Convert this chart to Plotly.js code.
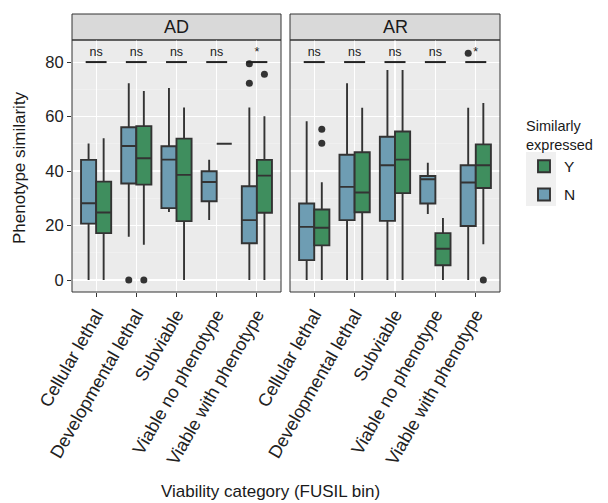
<!DOCTYPE html>
<html>
<head>
<meta charset="utf-8">
<script src="https://cdn.plot.ly/plotly-3.0.1.min.js"></script>
<style>html,body{margin:0;padding:0;background:#fff;}#chart{width:608px;height:503px;}</style>
</head>
<body>
<div id="chart"></div>
<script>
// ---- data ----
const categories = ['Cellular lethal','Developmental lethal','Subviable','Viable no phenotype','Viable with phenotype'];
const facets = ['AD','AR'];
const groups = ['N','Y'];

// AD, N
const AD_N_lower  = [0, 15.9, 25.0, 22.0, 0];
const AD_N_q1     = [20.7, 35.4, 26.4, 28.9, 13.5];
const AD_N_median = [28.2, 49.2, 44.2, 36.0, 22.0];
const AD_N_q3     = [44.1, 56.1, 49.1, 39.9, 34.4];
const AD_N_upper  = [50.1, 72.2, 70.5, 44.1, 63.3];
// AD, Y
const AD_Y_lower  = [0, 12.9, 0, 50, 0];
const AD_Y_q1     = [17.2, 35.0, 21.6, 50, 24.7];
const AD_Y_median = [24.8, 44.7, 38.6, 50, 38.3];
const AD_Y_q3     = [36.1, 56.5, 51.9, 50, 44.1];
const AD_Y_upper  = [52.0, 69.4, 63.3, 50, 60.1];
// AR, N
const AR_N_lower  = [0, 0, 0, 24.2, 0];
const AR_N_q1     = [7.3, 22.0, 21.7, 28.1, 19.8];
const AR_N_median = [19.5, 34.2, 42.1, 37.0, 35.8];
const AR_N_q3     = [28.1, 46.0, 52.6, 38.2, 42.1];
const AR_N_upper  = [58.3, 72.2, 77.1, 43.0, 63.2];
// AR, Y
const AR_Y_lower  = [0, 0, 0, 0, 13.1];
const AR_Y_q1     = [12.7, 24.9, 31.9, 5.4, 33.8];
const AR_Y_median = [19.2, 32.1, 44.2, 11.5, 42.1];
const AR_Y_q3     = [25.9, 46.9, 54.5, 17.2, 49.8];
const AR_Y_upper  = [35.9, 63.2, 77.1, 22.8, 65.0];

// outliers: category index (0-based) and value
const AD_N_outCat = [1, 4, 4];
const AD_N_outVal = [0, 79.4, 72.2];
const AD_Y_outCat = [1, 4];
const AD_Y_outVal = [0, 75.5];
const AR_N_outCat = [4];
const AR_N_outVal = [83.2];
const AR_Y_outCat = [0, 0, 4];
const AR_Y_outVal = [55.3, 50.2, 0];

// significance labels
const AD_sig = ['ns','ns','ns','ns','*'];
const AR_sig = ['ns','ns','ns','ns','*'];
const sigLevel = 80;

// ---- styles ----
const FONT = 'Liberation Sans, Arial, sans-serif';
const fillColor = {N: '#6E9DB3', Y: '#3F8E5E'};
const lineCol = '#333333';
const dodge = 0.1875, boxW = 0.375, sigHalf = 0.26;

const stats = {
  AD: {N: [AD_N_lower, AD_N_q1, AD_N_median, AD_N_q3, AD_N_upper, AD_N_outCat, AD_N_outVal],
       Y: [AD_Y_lower, AD_Y_q1, AD_Y_median, AD_Y_q3, AD_Y_upper, AD_Y_outCat, AD_Y_outVal]},
  AR: {N: [AR_N_lower, AR_N_q1, AR_N_median, AR_N_q3, AR_N_upper, AR_N_outCat, AR_N_outVal],
       Y: [AR_Y_lower, AR_Y_q1, AR_Y_median, AR_Y_q3, AR_Y_upper, AR_Y_outCat, AR_Y_outVal]}
};
const sigs = {AD: AD_sig, AR: AR_sig};

const traces = [];
facets.forEach((f, fi) => {
  const xa = fi === 0 ? 'x' : 'x2';
  groups.forEach(g => {
    const s = stats[f][g];
    const off = g === 'N' ? -dodge : dodge;
    const pos = categories.map((c, i) => i + 1 + off);
    traces.push({
      type: 'box', xaxis: xa, yaxis: 'y',
      name: g, legendgroup: g, showlegend: fi === 0, legendrank: g === 'Y' ? 1 : 2,
      x: pos, lowerfence: s[0], q1: s[1], median: s[2], q3: s[3], upperfence: s[4],
      width: boxW, whiskerwidth: 0, boxpoints: false,
      fillcolor: fillColor[g], line: {color: lineCol, width: 1.9},
      hoverinfo: 'skip'
    });
    traces.push({
      type: 'scatter', mode: 'markers', xaxis: xa, yaxis: 'y', showlegend: false,
      x: s[5].map(i => i + 1 + off), y: s[6],
      marker: {color: lineCol, size: 7}, hoverinfo: 'skip', cliponaxis: false
    });
  });
  // significance bars
  const sx = [], sy = [];
  categories.forEach((c, i) => { sx.push(i + 1 - sigHalf, i + 1 + sigHalf, null); sy.push(sigLevel, sigLevel, null); });
  traces.push({type: 'scatter', mode: 'lines', xaxis: xa, yaxis: 'y', showlegend: false,
    x: sx, y: sy, line: {color: '#222', width: 2}, hoverinfo: 'skip'});
  traces.push({type: 'scatter', mode: 'text', xaxis: xa, yaxis: 'y', showlegend: false,
    x: categories.map((c, i) => i + 1), y: categories.map(() => sigLevel + 3.3),
    text: sigs[f], textfont: {family: FONT, size: 12.5, color: '#222'},
    hoverinfo: 'skip', cliponaxis: false});
});

const W = 608, H = 503, L = 72, R = 108, T = 40, B = 211;
const pw = W - L - R, ph = H - T - B;
const px = v => (v - L) / pw, py = v => (H - B - v) / ph;

const xCommon = {
  range: [0.4, 5.6], tickvals: [1,2,3,4,5], ticktext: categories, tickangle: -60,
  showgrid: true, gridcolor: '#FFFFFF', gridwidth: 1.1, zeroline: false,
  ticks: 'outside', ticklen: 4, tickcolor: lineCol, tickwidth: 1,
  tickfont: {family: FONT, size: 18, color: '#222'},
  anchor: 'y', fixedrange: true
};

const shapes = [];
const annotations = [];
['x', 'x2'].forEach((xa, i) => {
  shapes.push({type: 'rect', xref: xa + ' domain', yref: 'paper', x0: 0, x1: 1, y0: 1, y1: 1 + 26/ph,
    fillcolor: '#D9D9D9', line: {color: lineCol, width: 1}, layer: 'below'});
  shapes.push({type: 'rect', xref: xa + ' domain', yref: 'y domain', x0: 0, x1: 1, y0: 0, y1: 1,
    fillcolor: 'rgba(0,0,0,0)', line: {color: lineCol, width: 1}, layer: 'above'});
  annotations.push({xref: xa + ' domain', yref: 'paper', x: 0.5, y: 1 + 13/ph, text: facets[i],
    showarrow: false, xanchor: 'center', yanchor: 'middle',
    font: {family: FONT, size: 18, color: '#1a1a1a'}});
});
// legend key background
shapes.push({type: 'rect', xref: 'paper', yref: 'paper', x0: px(526), x1: px(556), y0: py(152), y1: py(206),
  fillcolor: '#F0F0F0', line: {width: 0}, layer: 'below'});

annotations.push({xref: 'paper', yref: 'paper', x: px(270), y: py(492), text: 'Viability category (FUSIL bin)',
  showarrow: false, xanchor: 'center', yanchor: 'middle',
  font: {family: FONT, size: 17, color: '#1a1a1a'}});
annotations.push({xref: 'paper', yref: 'paper', x: px(19), y: py(168), text: 'Phenotype similarity', textangle: -90,
  showarrow: false, xanchor: 'center', yanchor: 'middle',
  font: {family: FONT, size: 17, color: '#1a1a1a'}});

const layout = {
  width: W, height: H,
  margin: {l: L, r: R, t: T, b: B, pad: 0},
  paper_bgcolor: '#FFFFFF', plot_bgcolor: '#EBEBEB',
  boxmode: 'overlay',
  xaxis: Object.assign({}, xCommon, {domain: [0, 209/pw]}),
  xaxis2: Object.assign({}, xCommon, {domain: [218/pw, 1]}),
  yaxis: {
    range: [-4.4, 88.1], tickvals: [0,20,40,60,80], showgrid: true, gridcolor: '#FFFFFF', gridwidth: 1.1,
    zeroline: false, ticks: 'outside', ticklen: 4, tickcolor: lineCol, tickwidth: 1,
    minor: {dtick: 10, tick0: 0, showgrid: true, gridcolor: '#F4F4F4', gridwidth: 0.6},
    tickfont: {family: FONT, size: 16.5, color: '#222'},
    fixedrange: true
  },
  showlegend: true,
  legend: {
    x: px(524), y: py(112), xanchor: 'left', yanchor: 'top',
    title: {text: 'Similarly<br>expressed', font: {family: FONT, size: 14.5, color: '#1a1a1a'}},
    font: {family: FONT, size: 15.5, color: '#1a1a1a'},
    bgcolor: 'rgba(255,255,255,0)', tracegroupgap: 5
  },
  shapes: shapes,
  annotations: annotations
};

Plotly.newPlot('chart', traces, layout, {staticPlot: true, displayModeBar: false});
</script>
</body>
</html>
